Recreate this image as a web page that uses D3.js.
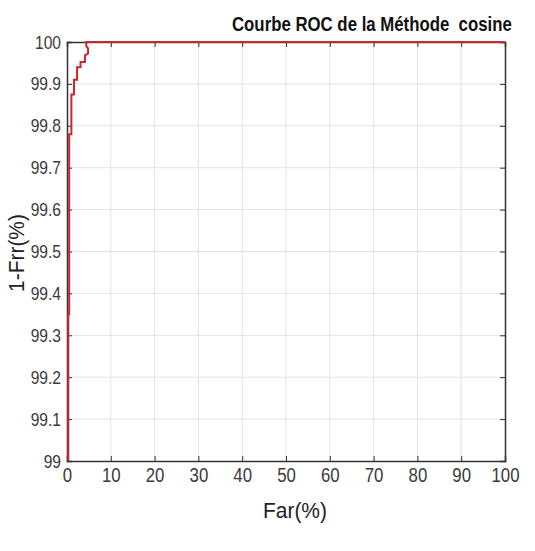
<!DOCTYPE html>
<html lang="en">
<head>
	<meta charset="UTF-8">
	<script type="text/javascript" src="https://d3js.org/d3.v7.min.js"></script>
	<title>Courbe ROC</title>
	<style>
		body { margin: 0; background: #fff; }
		.tick text { font-family: "Liberation Sans", Arial, sans-serif; fill: #3a3a3a; }
		.grid line { stroke: #e3e3e3; }
		.title { font-family: "Liberation Sans", Arial, sans-serif; font-weight: bold; font-size: 20px; fill: #111; }
		.label { font-family: "Liberation Sans", Arial, sans-serif; font-size: 22px; fill: #222; }
	</style>
</head>
<body>
<script type="text/javascript">
	// data: Far(%) and 1-Frr(%)
	const far = [0.3, 0.3, 0.5, 0.5, 1.0, 1.0, 1.6, 1.6, 2.3, 2.3, 3.1, 3.1, 4.1, 4.1, 4.8, 4.8, 4.4, 4.4, 100];
	const gar = [99.0, 99.35, 99.35, 99.78, 99.78, 99.875, 99.875, 99.91, 99.91, 99.94, 99.94, 99.952, 99.952, 99.968, 99.972, 99.985, 99.99, 100, 100];
	const xTicks = [0, 10, 20, 30, 40, 50, 60, 70, 80, 90, 100];
	const yTicks = [99, 99.1, 99.2, 99.3, 99.4, 99.5, 99.6, 99.7, 99.8, 99.9, 100];

	const svg = d3.select("body").append("svg")
		.attr("width", 535)
		.attr("height", 551);
	const mLeft = 67, mRight = 505, mTop = 42, mBottom = 461;

	let x = d3.scaleLinear().domain([0, 100]).range([mLeft, mRight]),
		y = d3.scaleLinear().domain([99, 100]).range([mBottom, mTop]);

	// squeeze text horizontally (the original uses a narrow font)
	function narrow(sel, k) {
		sel.each(function () {
			const w = this.getComputedTextLength();
			d3.select(this).attr("textLength", w * k).attr("lengthAdjust", "spacingAndGlyphs");
		});
	}

	// grid
	svg.append("g").attr("class", "grid")
		.selectAll("line").data(xTicks.slice(1, -1)).enter().append("line")
		.attr("x1", d => x(d)).attr("x2", d => x(d))
		.attr("y1", mTop).attr("y2", mBottom);
	svg.append("g").attr("class", "grid")
		.selectAll("line").data(yTicks.slice(1, -1)).enter().append("line")
		.attr("y1", d => y(d)).attr("y2", d => y(d))
		.attr("x1", mLeft).attr("x2", mRight);

	// axes, ticks pointing inward like matlab
	const fmt = d => String(+d.toFixed(1));
	let xa = svg.append("g").attr("transform", "translate(0," + mBottom + ")")
		.call(d3.axisBottom(x).tickValues(xTicks).tickSize(-5).tickPadding(7).tickFormat(fmt));
	xa.selectAll("text").style("font-size", "20px").call(narrow, 0.84);
	let ya = svg.append("g").attr("transform", "translate(" + mLeft + ",0)")
		.call(d3.axisLeft(y).tickValues(yTicks).tickSize(-5).tickPadding(6).tickFormat(fmt));
	ya.selectAll("text").style("font-size", "19px").call(narrow, 0.82);
	svg.append("g").attr("transform", "translate(0," + mTop + ")")
		.call(d3.axisTop(x).tickValues(xTicks).tickSize(-5).tickFormat(""));
	svg.append("g").attr("transform", "translate(" + mRight + ",0)")
		.call(d3.axisRight(y).tickValues(yTicks).tickSize(-5).tickFormat(""));
	svg.selectAll(".domain").attr("stroke", "#333").attr("stroke-width", 1.5);
	svg.selectAll(".tick line").attr("stroke", "#333");

	// roc curve
	const line = d3.line().x((d, i) => x(far[i])).y((d, i) => y(gar[i]));
	svg.append("path")
		.datum(far)
		.attr("d", line)
		.attr("fill", "none")
		.attr("stroke", "#c8282e")
		.attr("stroke-width", 2);

	// titles
	svg.append("text").attr("class", "title")
		.attr("transform", "translate(232,31) scale(0.84,1)")
		.text("Courbe ROC de la Méthode\u00a0 cosine");
	svg.append("text").attr("class", "label")
		.attr("x", 295).attr("y", 518)
		.attr("text-anchor", "middle")
		.text("Far(%)")
		.call(narrow, 0.95);
	svg.append("text").attr("class", "label")
		.attr("transform", "translate(24,253) rotate(-90)")
		.attr("text-anchor", "middle")
		.text("1-Frr(%)")
		.call(narrow, 0.95);
</script>
</body>
</html>
